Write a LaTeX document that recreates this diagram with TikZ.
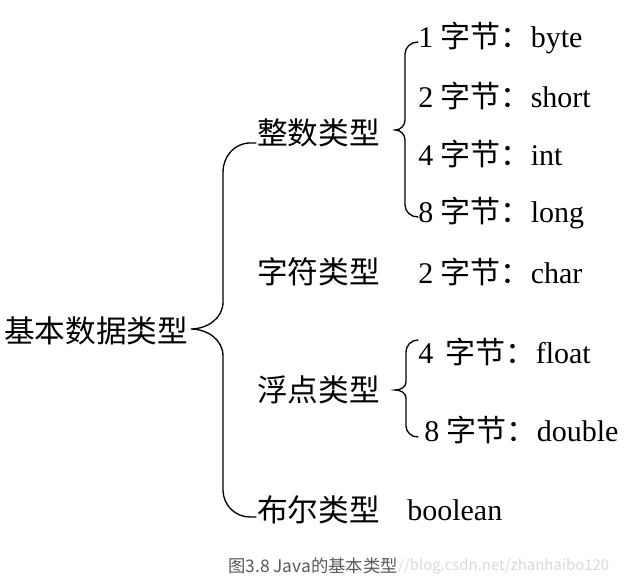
\documentclass[tikz,border=0pt]{standalone}
\usepackage{fontspec}
\setmainfont{Liberation Serif}
\newfontfamily\cjk{Noto Sans CJK SC}
\usepackage{xcolor}
\usepackage{tikz}
\usetikzlibrary{positioning, calc}

\newcommand{\zj}[2]{#1 {\cjk 字节：}#2}

\begin{document}
\begin{tikzpicture}[x=0.75pt, y=-0.75pt,
    every node/.style={inner sep=0pt, anchor=west},
    tipo/.style={font=\cjk\fontsize{23}{27}\selectfont},
    voce/.style={font=\fontsize{22.5}{26}\selectfont},
    graffa/.style={line width=1pt, line cap=round}]

    \useasboundingbox (0,0) rectangle (624,584);

    % Radice
    \node[tipo] (radice) at (4,331) {基本数据类型};

    % Tipi
    \node[tipo] (intero)    at (257,133) {整数类型};
    \node[tipo] (carattere) at (257,272) {字符类型};
    \node[tipo] (virgola)   at (257,390) {浮点类型};
    \node[tipo] (booleano)  at (257,510) {布尔类型};

    % Voci
    \node[voce] (byte)   at (418,38)  {\zj{1}{byte}};
    \node[voce] (short)  at (418,96)  {\zj{2}{short}};
    \node[voce] (int)    at (418,154) {\zj{4}{int}};
    \node[voce] (long)   at (418,213) {\zj{8}{long}};
    \node[voce] (char)   at (418,272) {\zj{2}{char}};
    \node[voce] (float)  at (418,352) {\zj{4\,}{float}};
    \node[voce] (double) at (424,430) {\zj{8}{double}};
    \node[voce] (bool)   at (407,510) {boolean};

    % Graffa grande
    \draw[graffa] ($(intero.west)+(-1,10)$) -- ++(-6,0) to[out=180,in=90] (223,172) -- (223,302)
        to[out=-90,in=0] ($(radice.east)+(2,-2)$) to[out=0,in=90] (223,356) -- (223,490)
        to[out=-90,in=180] ($(booleano.west)+(-7,7)$) -- ++(6,0);

    % Graffe piccole
    \draw[graffa] ($(byte.west)+(0,4)$) to[out=180,in=90] (405,54) -- (405,120)
        to[out=-90,in=0] ($(intero.east)+(15,-3)$) to[out=0,in=90] (405,140) -- (405,205)
        to[out=-90,in=180] ($(long.west)+(0,4)$);
    \draw[graffa] ($(float.west)+(0,-12)$) to[out=180,in=90] (406,352) -- (406,382)
        to[out=-90,in=0] ($(virgola.east)+(15,0)$) to[out=0,in=90] (406,398) -- (406,426)
        to[out=-90,in=180] ($(double.west)+(-6,7)$);

    % Didascalia
    \node[font=\cjk\fontsize{13}{15}\selectfont, text=black!65] (titolo) at (228,566) {图3.8 Java的基本类型};
    \node[font=\cjk\fontsize{11.2}{14}\selectfont, text=black!15] (sito) at (titolo.east) {//blog.csdn.net/zhanhaibo120};
\end{tikzpicture}
\end{document}
